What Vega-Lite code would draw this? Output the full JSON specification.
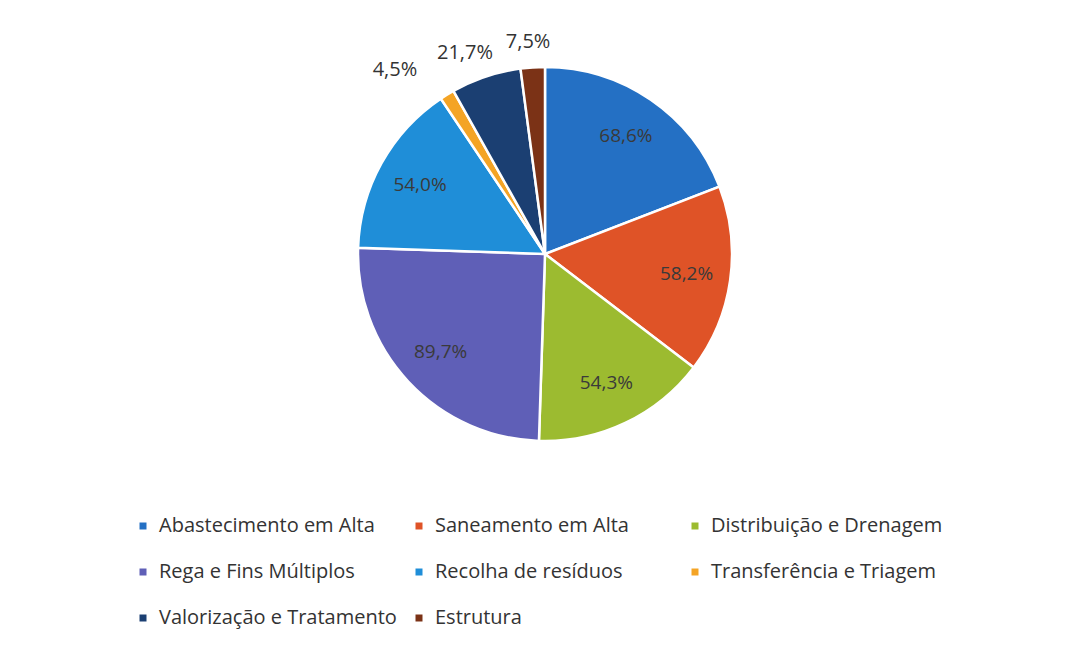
{
  "$schema": "https://vega.github.io/schema/vega-lite/v6.json",
  "width": 1054,
  "height": 508,
  "autosize": "none",
  "padding": {"left": 18, "top": 0, "right": 0, "bottom": 140},
  "background": "white",
  "config": {"view": {"stroke": null}, "font": "Open Sans"},
  "data": {
    "values": [
      {"ordem": 1, "setor": "Abastecimento em Alta", "valor": 68.6, "label": "68,6%"},
      {"ordem": 2, "setor": "Saneamento em Alta", "valor": 58.2, "label": "58,2%"},
      {"ordem": 3, "setor": "Distribuição e Drenagem", "valor": 54.3, "label": "54,3%"},
      {"ordem": 4, "setor": "Rega e Fins Múltiplos", "valor": 89.7, "label": "89,7%"},
      {"ordem": 5, "setor": "Recolha de resíduos", "valor": 54.0, "label": "54,0%"},
      {"ordem": 6, "setor": "Transferência e Triagem", "valor": 4.5, "label": "4,5%"},
      {"ordem": 7, "setor": "Valorização e Tratamento", "valor": 21.7, "label": "21,7%"},
      {"ordem": 8, "setor": "Estrutura", "valor": 7.5, "label": "7,5%"}
    ]
  },
  "encoding": {
    "theta": {"field": "valor", "type": "quantitative", "stack": true},
    "order": {"field": "ordem", "type": "quantitative"}
  },
  "layer": [
    {
      "mark": {"type": "arc", "outerRadius": 187, "stroke": "white", "strokeWidth": 2.5},
      "encoding": {
        "color": {
          "field": "setor",
          "type": "nominal",
          "scale": {
            "domain": ["Abastecimento em Alta", "Saneamento em Alta", "Distribuição e Drenagem", "Rega e Fins Múltiplos", "Recolha de resíduos", "Transferência e Triagem", "Valorização e Tratamento", "Estrutura"],
            "range": ["#2470C4", "#DF5327", "#9CBB30", "#5F5FB7", "#1F8ED8", "#F4A425", "#1B3F72", "#7B3216"]
          },
          "legend": {
            "title": null,
            "orient": "none",
            "legendX": 115,
            "legendY": 516,
            "direction": "horizontal",
            "columns": 3,
            "gridAlign": "all",
            "columnPadding": 12,
            "rowPadding": 26,
            "symbolType": "square",
            "symbolSize": 49,
            "symbolStrokeWidth": 0,
            "labelFont": "Open Sans",
            "labelFontSize": 20,
            "labelColor": "#333333",
            "labelLimit": 400,
            "labelOffset": 6
          }
        }
      }
    },
    {
      "mark": {"type": "text", "radius": 143, "fontSize": 19, "color": "#3a3a3a"},
      "encoding": {
        "text": {"condition": {"test": "datum.valor >= 30", "field": "label"}, "value": ""}
      }
    },
    {
      "mark": {"type": "text", "radius": 212, "dx": -13, "fontSize": 20, "color": "#333333"},
      "encoding": {
        "text": {"condition": {"test": "datum.ordem == 7", "field": "label"}, "value": ""}
      }
    },
    {
      "mark": {"type": "text", "radius": 212, "dx": -3, "fontSize": 20, "color": "#333333"},
      "encoding": {
        "text": {"condition": {"test": "datum.ordem == 8", "field": "label"}, "value": ""}
      }
    },
    {
      "mark": {"type": "text", "radius": 212, "dx": -39, "dy": -3, "fontSize": 20, "color": "#333333"},
      "encoding": {
        "text": {"condition": {"test": "datum.ordem == 6", "field": "label"}, "value": ""}
      }
    }
  ]
}
